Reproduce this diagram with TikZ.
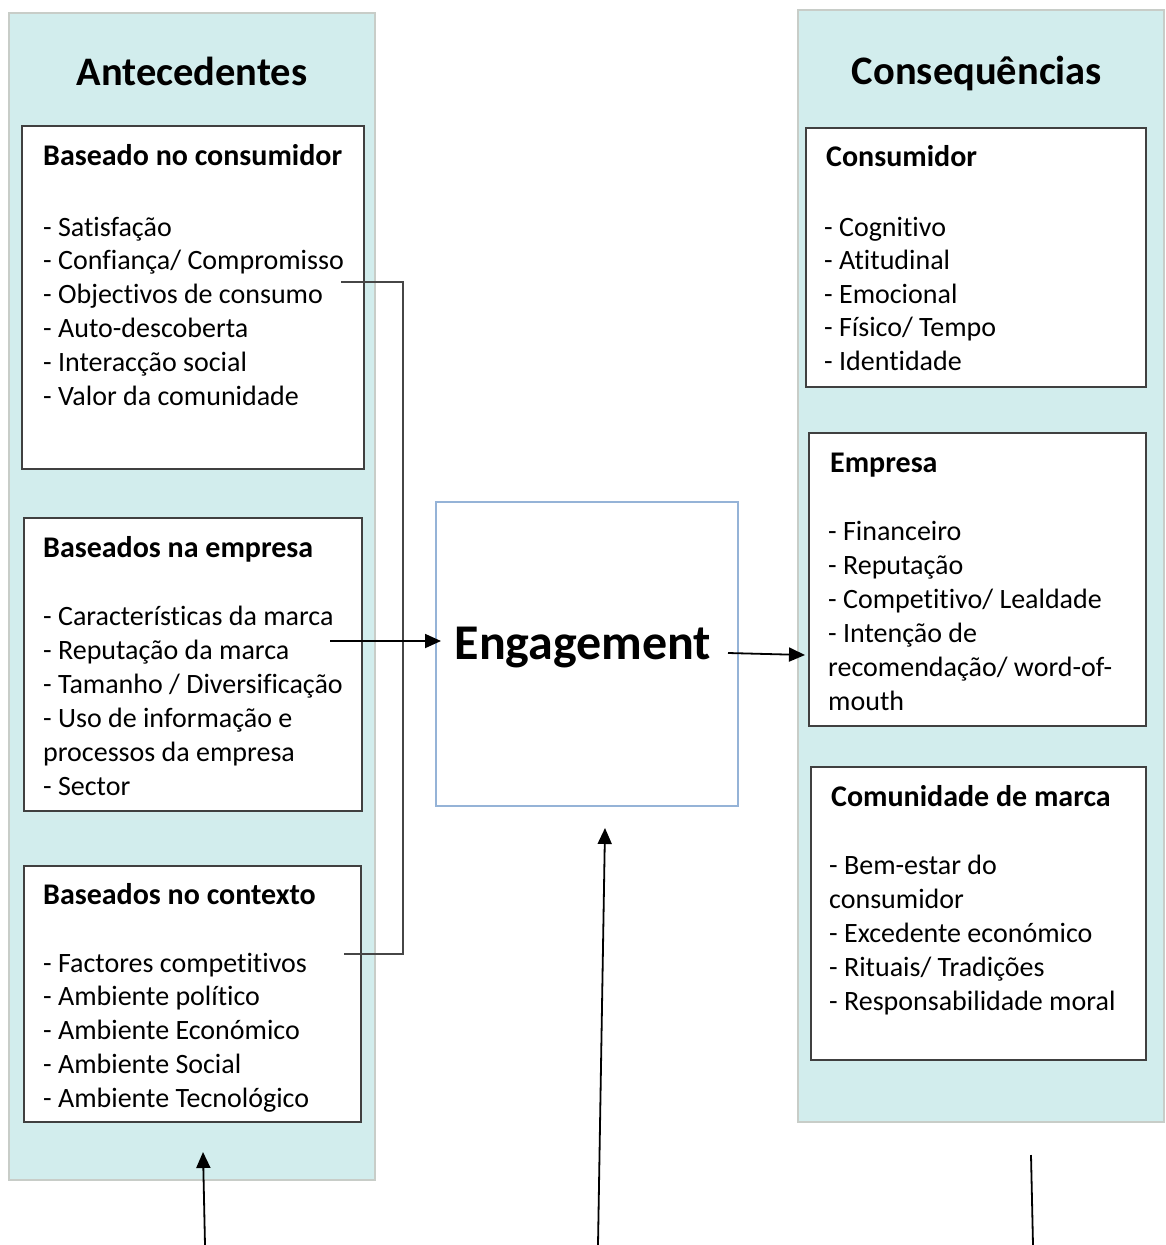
\documentclass[tikz,border=0pt]{standalone}
\usepackage{fontspec}
\setmainfont[Ligatures=NoCommon]{Carlito}
\usetikzlibrary{arrows.meta}
\definecolor{panelc}{RGB}{210,237,237}
\definecolor{panelb}{RGB}{200,205,200}
\definecolor{boxb}{RGB}{64,64,64}
\definecolor{engb}{RGB}{149,179,215}
\definecolor{linec}{RGB}{70,70,70}
\begin{document}
\begin{tikzpicture}[x=1pt,y=-1pt,
  panel/.style={fill=panelc,draw=panelb,line width=2.5pt},
  box/.style={draw=boxb,fill=white,line width=1.8pt},
  engbox/.style={draw=engb,fill=white,line width=1.8pt},
  head/.style={font=\fontsize{40.5}{46}\selectfont\bfseries,anchor=base,inner sep=0pt},
  ttl/.style={font=\fontsize{30}{34}\selectfont\bfseries,anchor=base west,inner sep=0pt},
  item/.style={font=\fontsize{28}{34}\selectfont,anchor=base west,inner sep=0pt},
  conn/.style={draw=linec,line width=1.8pt},
  arr/.style={draw=black,line width=1.8pt,-{Triangle[length=16pt,width=14pt]}},
  plain/.style={draw=black,line width=1.8pt}
]
\useasboundingbox (0,0) rectangle (1166,1245);
% panels
\path[panel] (9,13) rectangle (375,1180);
\path[panel] (798,10) rectangle (1164,1122);
\node[head] (hA) at (192,85) {Antecedentes};
\node[head] (hC) at (977,84) {Consequências};
% left boxes
\path[box] (22,126) rectangle (364,469);
\path[box] (24,518) rectangle (362,811);
\path[box] (24,866) rectangle (361,1122);
\node[ttl] (t1) at (43,165) {Baseado no consumidor};
\foreach [count=\i] \t in {- Satisfação,- Confiança/ Compromisso,- Objectivos de consumo,- Auto-descoberta,- Interacção social,- Valor da comunidade}
  \node[item] (a\i) at (43,{236+33.8*(\i-1)}) {\t};
\node[ttl] (t2) at (43,557) {Baseados na empresa};
\foreach [count=\i] \t in {- Características da marca,- Reputação da marca,- Tamanho / Diversificação,- Uso de informação e,processos da empresa,- Sector}
  \node[item] (b\i) at (43,{625+34*(\i-1)}) {\t};
\node[ttl] (t3) at (43,904) {Baseados no contexto};
\foreach [count=\i] \t in {- Factores competitivos,- Ambiente político,- Ambiente Económico,- Ambiente Social,- Ambiente Tecnológico}
  \node[item] (c\i) at (43,{972+33.8*(\i-1)}) {\t};
% engagement
\path[engbox] (436,502) rectangle (738,806);
\node[font=\fontsize{50}{56}\selectfont\bfseries,inner sep=0pt] (eng) at (583,648) {Engagement};
% right boxes
\path[box] (806,128) rectangle (1146,387);
\path[box] (809,433) rectangle (1146,726);
\path[box] (811,767) rectangle (1146,1060);
\node[ttl] (r1) at (826,166) {Consumidor};
\foreach [count=\i] \t in {- Cognitivo,- Atitudinal,- Emocional,- Físico/ Tempo,- Identidade}
  \node[item] (d\i) at (824,{236+33.6*(\i-1)}) {\t};
\node[ttl] (r2) at (830,472) {Empresa};
\foreach [count=\i] \t in {- Financeiro,- Reputação,- Competitivo/ Lealdade,- Intenção de,recomendação/ word-of-,mouth}
  \node[item] (e\i) at (828,{540+34*(\i-1)}) {\t};
\node[ttl] (r3) at (831,806) {Comunidade de marca};
\foreach [count=\i] \t in {- Bem-estar do,consumidor,- Excedente económico,- Rituais/ Tradições,- Responsabilidade moral}
  \node[item] (f\i) at (829,{874+34*(\i-1)}) {\t};
% connectors
\coordinate (k1) at (341,282);
\coordinate (k2) at (403,282);
\coordinate (k3) at (403,954);
\coordinate (k4) at (344,954);
\draw[conn] (k1) -- (k2) -- (k3) -- (k4);
\coordinate (m1) at (330,641);
\coordinate (m2) at (441,641);
\draw[arr] (m1) -- (m2);
\coordinate (n1) at (728,653);
\coordinate (n2) at (805,655);
\draw[arr] (n1) -- (n2);
\coordinate (p1) at (205,1245);
\coordinate (p2) at (203,1152);
\draw[arr] (p1) -- (p2);
\coordinate (q1) at (598,1245);
\coordinate (q2) at (605,828);
\draw[arr] (q1) -- (q2);
\coordinate (s1) at (1033,1245);
\coordinate (s2) at (1031,1155);
\draw[plain] (s1) -- (s2);
\end{tikzpicture}
\end{document}
